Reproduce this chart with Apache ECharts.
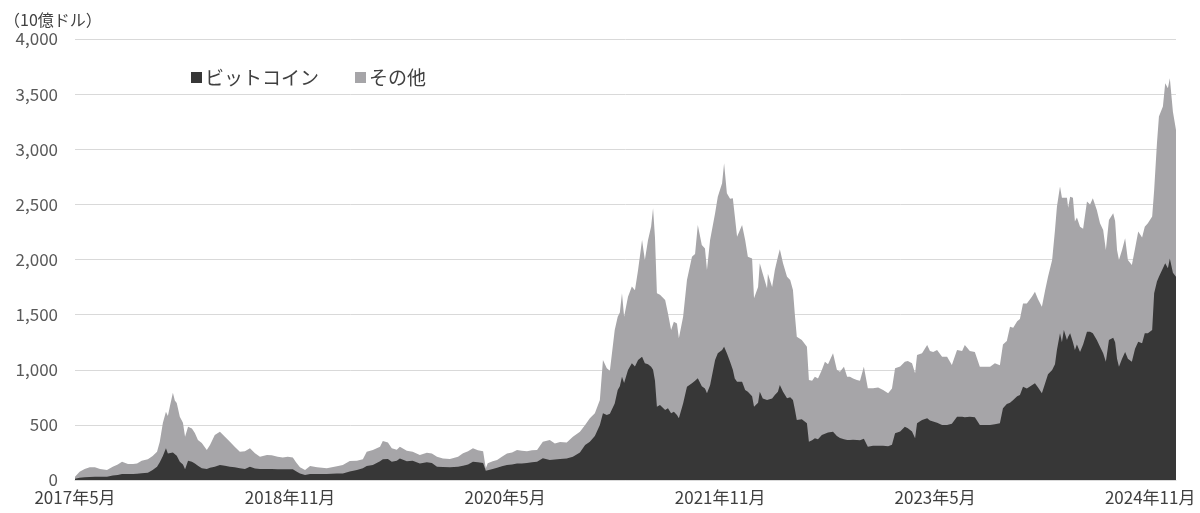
<!DOCTYPE html>
<html>
<head>
<meta charset="utf-8">
<script src="https://cdn.jsdelivr.net/npm/echarts@6/dist/echarts.min.js"></script>
<style>
html,body{margin:0;padding:0;background:#fff;}
#chart{width:1200px;height:513px;}
</style>
</head>
<body>
<div id="chart"></div>
<script>
// Crypto market capitalisation, billions of USD
const dates = [
'2017-05-01','2017-05-13','2017-05-26','2017-06-08','2017-06-21','2017-07-04','2017-07-22','2017-08-06','2017-08-19','2017-08-30',
'2017-09-14','2017-09-27','2017-10-07','2017-10-19','2017-11-04','2017-11-16','2017-11-27','2017-12-04','2017-12-12','2017-12-20',
'2017-12-25','2017-12-30','2018-01-07','2018-01-12','2018-01-17','2018-01-25','2018-02-02','2018-02-07','2018-02-14','2018-02-23',
'2018-03-02','2018-03-10','2018-03-20','2018-04-02','2018-04-10','2018-04-22','2018-05-05','2018-05-18','2018-05-31','2018-06-12',
'2018-06-25','2018-07-08','2018-07-21','2018-08-03','2018-08-16','2018-09-03','2018-09-15','2018-09-30','2018-10-13','2018-10-26',
'2018-11-08','2018-11-16','2018-11-26','2018-12-09','2018-12-22','2019-01-09','2019-01-22','2019-02-03','2019-02-15','2019-02-27',
'2019-03-14','2019-04-01','2019-04-19','2019-05-04','2019-05-14','2019-05-30','2019-06-17','2019-06-24','2019-07-07','2019-07-17',
'2019-07-30','2019-08-07','2019-08-25','2019-09-09','2019-09-27','2019-10-15','2019-10-28','2019-11-10','2019-11-25','2019-12-13',
'2020-01-03','2020-01-16','2020-01-29','2020-02-10','2020-02-22','2020-03-06','2020-03-13','2020-03-18','2020-03-31','2020-04-11',
'2020-04-23','2020-05-06','2020-05-19','2020-06-01','2020-06-13','2020-06-26','2020-07-09','2020-07-22','2020-08-06','2020-08-24',
'2020-09-06','2020-09-19','2020-10-06','2020-10-22','2020-11-09','2020-11-22','2020-12-04','2020-12-17','2020-12-30','2021-01-07',
'2021-01-17','2021-01-25','2021-01-30','2021-02-06','2021-02-13','2021-02-18','2021-02-23','2021-02-28','2021-03-10','2021-03-20',
'2021-03-28','2021-04-05','2021-04-15','2021-04-22','2021-04-30','2021-05-08','2021-05-13','2021-05-18','2021-05-23','2021-05-31',
'2021-06-13','2021-06-20','2021-06-28','2021-07-05','2021-07-13','2021-07-18','2021-07-29','2021-08-08','2021-08-21','2021-08-29',
'2021-09-05','2021-09-15','2021-09-23','2021-09-28','2021-10-06','2021-10-19','2021-10-26','2021-11-06','2021-11-11','2021-11-18',
'2021-11-26','2021-12-03','2021-12-08','2021-12-14','2021-12-27','2022-01-04','2022-01-11','2022-01-22','2022-01-27','2022-02-06',
'2022-02-10','2022-02-17','2022-02-27','2022-03-01','2022-03-12','2022-03-19','2022-03-27','2022-04-01','2022-04-09','2022-04-19',
'2022-04-27','2022-05-04','2022-05-09','2022-05-14','2022-05-27','2022-06-09','2022-06-14','2022-06-22','2022-06-29','2022-07-07',
'2022-07-17','2022-07-25','2022-08-02','2022-08-15','2022-08-25','2022-09-02','2022-09-12','2022-09-20','2022-09-27','2022-10-05',
'2022-10-15','2022-10-23','2022-11-02','2022-11-12','2022-11-25','2022-12-08','2022-12-21','2023-01-03','2023-01-13','2023-01-21',
'2023-02-03','2023-02-14','2023-02-21','2023-03-03','2023-03-11','2023-03-16','2023-03-29','2023-04-11','2023-04-18','2023-04-26',
'2023-05-06','2023-05-19','2023-06-01','2023-06-13','2023-06-26','2023-07-09','2023-07-16','2023-07-29','2023-08-11','2023-08-24',
'2023-09-06','2023-09-19','2023-10-01','2023-10-14','2023-10-22','2023-11-01','2023-11-09','2023-11-17','2023-11-27','2023-12-04',
'2023-12-12','2023-12-22','2024-01-04','2024-01-12','2024-01-20','2024-01-30','2024-02-07','2024-02-14','2024-02-24','2024-03-02',
'2024-03-07','2024-03-15','2024-03-20','2024-03-25','2024-04-02','2024-04-05','2024-04-10','2024-04-17','2024-04-22','2024-04-27',
'2024-05-05','2024-05-13','2024-05-23','2024-05-31','2024-06-07','2024-06-17','2024-06-25','2024-07-03','2024-07-10','2024-07-18',
'2024-07-29','2024-08-03','2024-08-08','2024-08-13','2024-08-21','2024-08-29','2024-09-05','2024-09-15','2024-09-23','2024-10-01',
'2024-10-11','2024-10-18','2024-10-26','2024-11-06','2024-11-11','2024-11-18','2024-11-23','2024-12-03','2024-12-09','2024-12-16',
'2024-12-21','2024-12-29','2025-01-06'
];
// Bitcoin market cap
const bitcoin = [
12,20,24,28,30,30,30,40,45,54,
54,55,56,62,66,90,120,160,218,287,
240,248,250,240,220,166,140,97,175,166,
150,130,106,100,110,121,136,130,121,115,
106,100,121,105,100,100,100,98,97,97,
97,80,60,45,55,54,54,54,56,58,
60,76,90,106,127,136,170,188,190,166,
175,196,170,175,150,160,155,120,118,115,
120,130,140,166,160,155,85,95,100,110,
125,136,140,150,150,155,160,166,197,181,
185,190,195,211,250,317,347,400,500,605,
590,600,605,695,816,850,937,880,998,1058,
1030,1088,1119,1058,1050,1028,1000,900,665,680,
635,650,605,620,590,559,695,846,877,900,
922,850,830,786,860,1088,1149,1180,1209,1150,
1073,1000,920,892,892,816,800,760,665,700,
801,740,725,740,740,770,800,862,800,741,
750,726,640,544,550,514,347,360,378,370,
408,420,430,438,400,380,370,363,363,365,
363,360,375,302,310,310,310,305,320,423,
440,484,470,440,378,514,544,559,540,530,
520,499,499,510,574,574,570,574,570,499,
499,499,505,514,650,690,700,726,760,771,
846,830,860,877,840,786,877,960,998,1050,
1179,1330,1250,1361,1270,1300,1330,1250,1179,1230,
1160,1230,1345,1345,1330,1270,1209,1150,1073,1270,
1290,1250,1100,1028,1100,1160,1100,1073,1190,1254,
1240,1330,1330,1360,1693,1800,1844,1920,1965,1920,
2010,1880,1844
];
// Total market cap (bitcoin + others)
const total = [
30,75,100,115,115,100,90,120,140,166,
145,145,150,175,188,218,257,347,517,620,
580,665,792,720,698,574,520,393,483,468,
426,363,335,272,317,408,438,393,347,302,
257,260,287,242,211,226,225,211,205,210,
205,160,115,91,127,115,110,106,115,125,
136,172,175,188,257,272,302,354,340,287,
275,302,266,257,226,247,240,211,196,190,
211,242,260,287,270,260,106,151,170,181,
210,240,250,272,265,260,270,272,347,363,
330,345,340,393,438,499,559,605,726,1088,
1013,990,982,1361,1481,1520,1693,1481,1663,1754,
1720,1905,2177,1995,2177,2300,2464,2200,1693,1680,
1633,1512,1361,1436,1420,1285,1481,1814,2025,2050,
2313,2132,2100,1905,2177,2419,2570,2691,2872,2600,
2550,2555,2400,2207,2313,2177,2025,2010,1648,1750,
1965,1870,1739,1870,1750,1905,2025,2092,1965,1844,
1814,1723,1500,1300,1270,1209,907,900,937,920,
998,1073,1050,1149,1000,982,1028,937,937,920,
907,900,1028,832,832,840,816,786,830,1013,
1030,1073,1080,1060,968,1134,1149,1224,1170,1160,
1179,1119,1119,1043,1179,1170,1224,1170,1160,1028,
1028,1028,1060,1040,1230,1260,1391,1380,1440,1460,
1602,1600,1663,1708,1640,1572,1720,1844,1995,2268,
2479,2661,2560,2570,2560,2470,2570,2560,2344,2380,
2298,2280,2525,2500,2555,2450,2328,2268,2087,2358,
2419,2350,2087,1995,2087,2192,1995,1950,2100,2253,
2200,2298,2328,2389,2630,3054,3296,3387,3598,3553,
3643,3340,3175
];
const seriesNames = ['ビットコイン', 'その他'];
const yTicks = { min: 0, max: 4000, step: 500 };
const xStart = '2017-05-01';
const xEnd = '2025-01-06';
const labelStepMonths = 18;

// date string -> months elapsed since May 2017 (fractional)
function toMonth(s) {
  const p = s.split('-').map(Number);
  const dim = new Date(p[0], p[1], 0).getDate();
  return (p[0] - 2017) * 12 + (p[1] - 5) + (p[2] - 1) / dim;
}
function monthLabel(v) {
  const k = Math.round(v) + 4;
  return (2017 + Math.floor(k / 12)) + '年' + (k % 12 + 1) + '月';
}

const btcData = dates.map((d, i) => [toMonth(d), bitcoin[i]]);
const totalData = dates.map((d, i) => [toMonth(d), total[i]]);

const FONT = '"Noto Sans CJK JP", "Noto Sans", sans-serif';
const DARK = '#373737';
const LIGHT = '#a6a5a8';

const chart = echarts.init(document.getElementById('chart'), null, { renderer: 'canvas' });
chart.setOption({
  animation: false,
  backgroundColor: '#ffffff',
  textStyle: { fontFamily: FONT },
  grid: { left: 75, right: 24, top: 39, bottom: 33, containLabel: false },
  graphic: [{
    type: 'text', left: 4, top: 12,
    style: { text: '（10億ドル）', font: '16px ' + FONT, fill: '#404040' }
  }],
  legend: {
    data: seriesNames,
    left: 186, top: 63,
    itemWidth: 11, itemHeight: 11, itemGap: 36,
    icon: 'rect',
    textStyle: { fontSize: 19, color: '#404040', fontFamily: FONT, padding: [0, 0, 0, -2] }
  },
  xAxis: {
    type: 'value',
    min: toMonth(xStart), max: toMonth(xEnd), interval: labelStepMonths,
    splitLine: { show: false },
    axisTick: { show: false },
    axisLine: { show: true, lineStyle: { color: '#d9d9d9', width: 1 } },
    axisLabel: {
      formatter: monthLabel, color: '#404040', fontSize: 17, margin: 9,
      fontFamily: FONT, showMaxLabel: false, showMinLabel: true
    }
  },
  yAxis: {
    type: 'value',
    min: yTicks.min, max: yTicks.max, interval: yTicks.step,
    axisLine: { show: false }, axisTick: { show: false },
    splitLine: { lineStyle: { color: '#d9d9d9', width: 1 } },
    axisLabel: {
      color: '#595959', fontSize: 17, margin: 17, fontFamily: FONT,
      formatter: v => v.toLocaleString('en-US')
    }
  },
  series: [
    {
      name: seriesNames[1], type: 'line', data: totalData,
      showSymbol: false, symbol: 'none', silent: true, z: 2,
      lineStyle: { width: 0 }, itemStyle: { color: LIGHT },
      areaStyle: { color: LIGHT, opacity: 1 }
    },
    {
      name: seriesNames[0], type: 'line', data: btcData,
      showSymbol: false, symbol: 'none', silent: true, z: 3,
      lineStyle: { width: 0 }, itemStyle: { color: DARK },
      areaStyle: { color: DARK, opacity: 1 }
    }
  ]
});
</script>
</body>
</html>
